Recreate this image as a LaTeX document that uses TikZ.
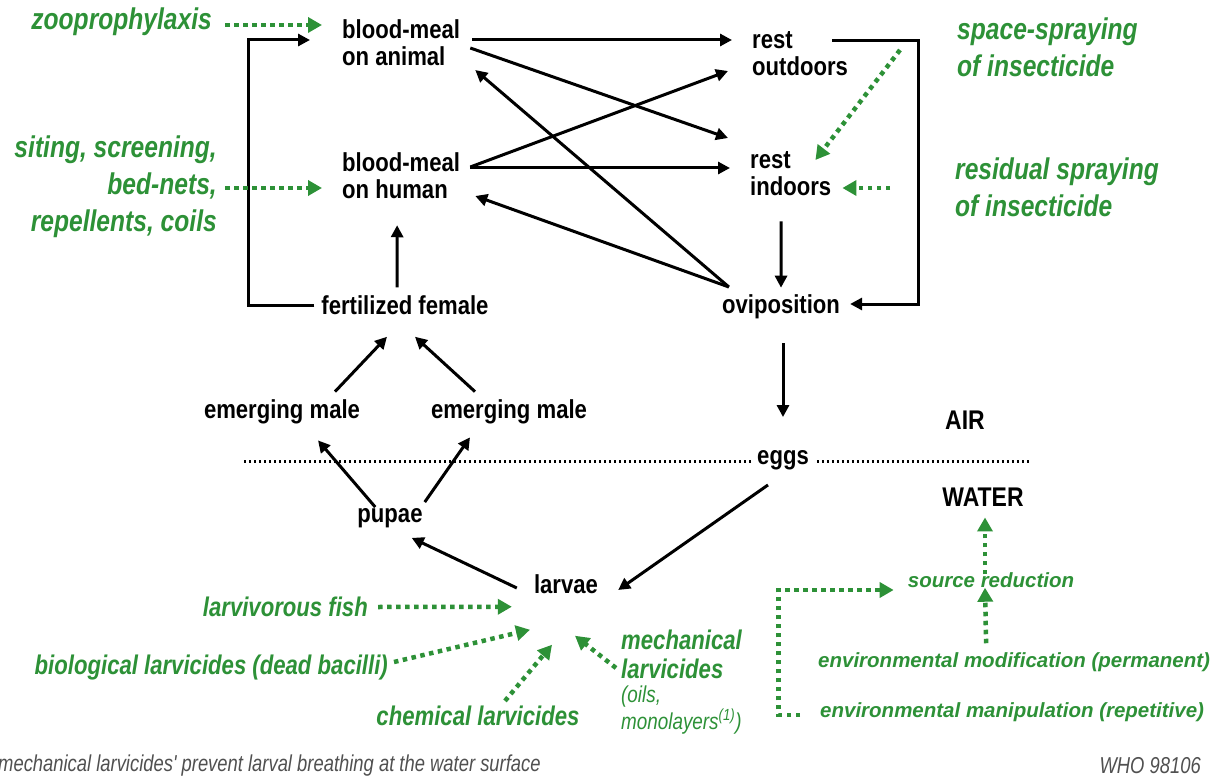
\documentclass[tikz,border=0pt]{standalone}
\usepackage{fontspec}
\setmainfont{Liberation Sans}
\newfontfamily\stagefont{Liberation Sans}[FakeStretch=0.85]
\newfontfamily\ctrlfont{Liberation Sans}[FakeStretch=0.82]
\newfontfamily\notefont{Liberation Sans}[FakeStretch=0.8]
\usetikzlibrary{arrows.meta}
\definecolor{ctrl}{RGB}{45,145,55}
\definecolor{note}{RGB}{80,80,80}

\tikzset{
  stage/.style={font=\stagefont\fontsize{26}{27}\selectfont\bfseries, align=left, inner sep=2pt},
  bigctrl/.style={font=\ctrlfont\fontsize{30}{37}\selectfont\bfseries\itshape, text=ctrl, inner sep=2pt},
  lowctrl/.style={font=\ctrlfont\fontsize{27}{29}\selectfont\bfseries\itshape, text=ctrl, inner sep=2pt},
  smallctrl/.style={font=\fontsize{20.5}{24}\selectfont\bfseries\itshape, text=ctrl, inner sep=2pt},
  footnote/.style={font=\notefont\fontsize{23}{24}\selectfont\itshape, text=note, inner sep=0pt},
  flow/.style={line width=3pt, -{Triangle[length=12pt,width=12pt]}},
  ctrlarrow/.style={draw=ctrl, line width=4.5pt, dash pattern=on 4.5pt off 4.5pt,
    -{Triangle[length=14pt,width=15pt,fill=ctrl]}},
  shoreline/.style={line width=3pt, dash pattern=on 2pt off 3pt},
}

\begin{document}
\begin{tikzpicture}[x=1pt, y=-1pt]
\useasboundingbox (0,0) rectangle (1219,781);

% life-cycle stages
\node[stage, anchor=west] (animal)   at (340,43)  {blood-meal\\on animal};
\node[stage, anchor=west] (human)    at (340,176) {blood-meal\\on human};
\node[stage]              (female)   at (405,305) {fertilized female};
\node[stage, anchor=west] (outdoors) at (750,54)  {rest\\outdoors};
\node[stage, anchor=west] (indoors)  at (748,174) {rest\\indoors};
\node[stage]              (ovi)      at (781,307) {oviposition};
\node[stage]              (male1)    at (282,412) {emerging male};
\node[stage]              (male2)    at (509,412) {emerging male};
\node[stage]              (eggs)     at (783,460) {eggs};
\node[stage]              (pupae)    at (390,518) {pupae};
\node[stage]              (larvae)   at (566,584) {larvae};
\node[stage, font=\stagefont\fontsize{27}{27}\selectfont\bfseries] (air)   at (965,420) {AIR};
\node[stage, font=\stagefont\fontsize{27}{27}\selectfont\bfseries] (water) at (983,497) {WATER};

% control measures
\node[bigctrl, anchor=east] (zoo) at (214,22) {zooprophylaxis};
\node[bigctrl, anchor=east, align=right] (siting) at (219,187) {siting, screening,\\bed-nets,\\repellents, coils};
\node[bigctrl, anchor=west, align=left] (space) at (955,47) {space-spraying\\of insecticide};
\node[bigctrl, anchor=west, align=left] (residual) at (953,187) {residual spraying\\of insecticide};
\node[lowctrl, anchor=east] (fish) at (370,607) {larvivorous fish};
\node[lowctrl, anchor=east] (bio)  at (390,668) {biological larvicides (dead bacilli)};
\node[lowctrl] (chem) at (478,716) {chemical larvicides};
\node[lowctrl, anchor=north west, align=left] (mech) at (619,628) {mechanical\\larvicides};
\node[lowctrl, anchor=north west, align=left, font=\ctrlfont\fontsize{23}{24}\selectfont\itshape]
  (mechnote) at (619,684) {(oils,\\monolayers\textsuperscript{(1)})};
\node[smallctrl] (source) at (991,580) {source reduction};
\node[smallctrl, anchor=west] (modif)  at (816,662) {environmental modification (permanent)};
\node[smallctrl, anchor=west] (manip)  at (818,712) {environmental manipulation (repetitive)};

% notes
\node[footnote, anchor=west] (fn)  at (-2,766) {mechanical larvicides' prevent larval breathing at the water surface};
\node[footnote, anchor=east] (who) at (1201,766) {WHO 98106};

% air / water boundary
\coordinate (shoreL) at (243,461);
\coordinate (shoreR) at (1031,461);
\draw[shoreline] ([shift={(-4,1)}]eggs.west) -- (shoreL);
\draw[shoreline] ([shift={(6,1)}]eggs.east) -- (shoreR);

% feeding and resting
\draw[flow] ([shift={(-5,0)}]female.west) -| ([shift={(-92,-3)}]animal.west) -- ([shift={(-30,-3)}]animal.west);
\draw[flow] ([shift={(-8,-6)}]female.north) -- ([shift={(-4,24)}]human.south);
\draw[flow] ([shift={(10,-3)}]animal.east) -- ([shift={(-18,-14)}]outdoors.west);
\draw[flow] ([shift={(8,5)}]animal.east) -- ([shift={(-20,-36)}]indoors.west);
\draw[flow] ([shift={(8,-9)}]human.east) -- ([shift={(-22,17)}]outdoors.west);
\draw[flow] ([shift={(8,-8)}]human.east) -- ([shift={(-18,-6)}]indoors.west);
\draw[flow] ([shift={(9,-20)}]ovi.west) -- ([shift={(13,27)}]animal.east);
\draw[flow] ([shift={(9,-20)}]ovi.west) -- ([shift={(13,20)}]human.east);
\draw[flow] ([shift={(-18,-13)}]outdoors.east) -| ([shift={(76,-3)}]ovi.east) -- ([shift={(8,-3)}]ovi.east);
\draw[flow] ([shift={(-9.5,23)}]indoors.south) -- ([shift={(0,-5)}]ovi.north);

% development in the water
\draw[flow] ([shift={(2,22)}]ovi.south) -- ([shift={(0,-31)}]eggs.north);
\draw[flow] ([shift={(-15,13)}]eggs.south) -- ([shift={(18,6)}]larvae.east);
\draw[flow] ([shift={(-15,4)}]larvae.west) -- ([shift={(-13,8)}]pupae.south east);
\draw[flow] ([shift={(20,1)}]pupae.north west) -- ([shift={(36,14)}]male1.south);
\draw[flow] ([shift={(0,-4)}]pupae.north east) -- ([shift={(-39,11)}]male2.south);
\draw[flow] ([shift={(53,-6)}]male1.north) -- ([shift={(-18,20)}]female.south);
\draw[flow] ([shift={(-34,-6)}]male2.north) -- ([shift={(10,20)}]female.south);

% control measures acting on the cycle
\draw[ctrlarrow] ([shift={(11,3)}]zoo.east) -- ([shift={(-18,-18)}]animal.west);
\draw[ctrlarrow] ([shift={(6,1)}]siting.east) -- ([shift={(-18,12)}]human.west);
\draw[ctrlarrow] ([shift={(-55,3)}]space.west) -- ([shift={(-18,-14)}]indoors.east);
\draw[ctrlarrow] ([shift={(-63,1)}]residual.west) -- ([shift={(9,14)}]indoors.east);
\draw[ctrlarrow] ([shift={(8,0)}]fish.east) -- ([shift={(-20,11)}]larvae.south west);
\draw[ctrlarrow] ([shift={(4,-6)}]bio.east) -- ([shift={(-36,34)}]larvae.south);
\draw[ctrlarrow] ([shift={(27,-3)}]chem.north) -- ([shift={(-14,49)}]larvae.south);
\draw[ctrlarrow] ([shift={(-3,40)}]mech.north west) -- ([shift={(9,40)}]larvae.south);
\draw[ctrlarrow] ([shift={(-28,-7)}]modif.north) -- ([shift={(-6,-2)}]source.south);
\draw[ctrlarrow] ([shift={(-6,4)}]source.north) -- ([shift={(2,9)}]water.south);
\draw[ctrlarrow] ([shift={(-18,3)}]manip.west) -| ([shift={(-127,10)}]source.west) -- ([shift={(-12,10)}]source.west);
\end{tikzpicture}
\end{document}
